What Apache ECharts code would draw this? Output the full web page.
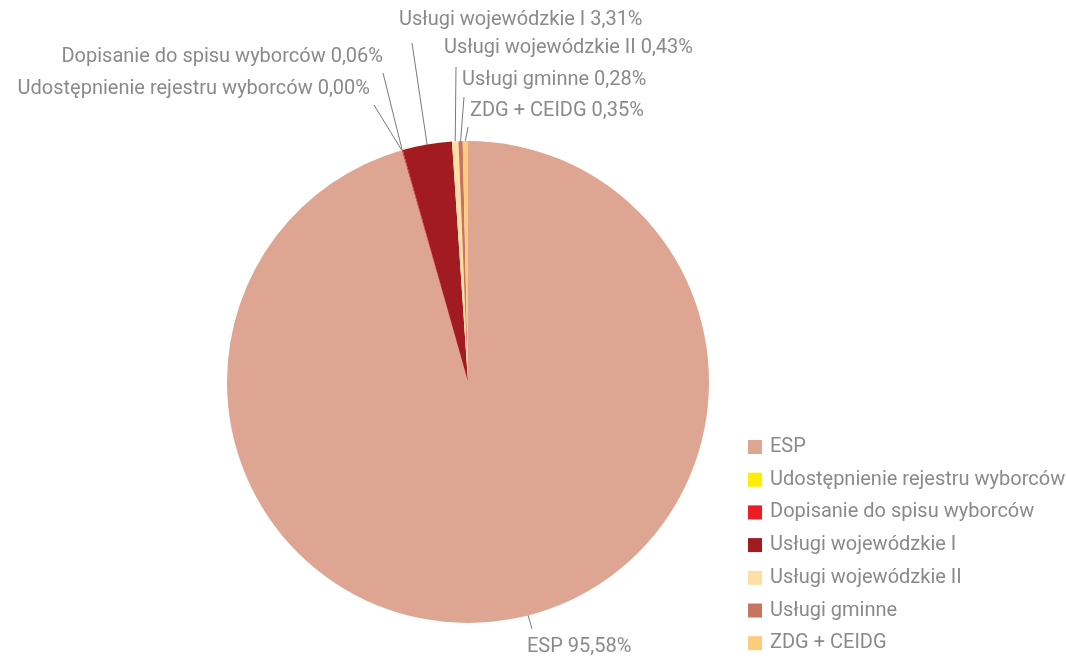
<!DOCTYPE html>
<html>
<head>
<meta charset="utf-8">
<script src="https://cdn.jsdelivr.net/npm/echarts@6/dist/echarts.min.js"></script>
<style>
  html, body { margin: 0; padding: 0; background: #fff; }
  #chart { width: 1066px; height: 656px; }
</style>
</head>
<body>
<div id="chart"></div>
<script>
// Share of each service, in percent
const categories = [
  'ESP',
  'Udostępnienie rejestru wyborców',
  'Dopisanie do spisu wyborców',
  'Usługi wojewódzkie I',
  'Usługi wojewódzkie II',
  'Usługi gminne',
  'ZDG + CEIDG'
];
const shares = [95.58, 0.00, 0.06, 3.31, 0.43, 0.28, 0.35];
const colors = ['#DEA692', '#FFEE00', '#EE1D25', '#A21B21', '#FDDFA3', '#C77461', '#FDCB7C'];

const FONT = 'Roboto';
const TEXT_GREY = '#8a8a8a';

// Where each callout label sits (text anchor) and where its leader line ends
const calloutLayout = [
  { x: 527, y: 647, align: 'left',  end: [532, 629], from: [528, 615] },
  { x: 370, y: 89,  align: 'right', end: [374, 105] },
  { x: 383, y: 57,  align: 'right', end: [383, 73] },
  { x: 399, y: 20,  align: 'left',  end: [412, 43] },
  { x: 444, y: 48,  align: 'left',  end: [456, 67] },
  { x: 462, y: 80,  align: 'left',  end: [464, 97] },
  { x: 470, y: 111, align: 'left',  end: [468, 127] }
];

const chart = echarts.init(document.getElementById('chart'), null, { renderer: 'canvas' });

chart.setOption({
  animation: false,
  color: colors,
  legend: {
    orient: 'vertical',
    left: 748,
    top: 437,
    padding: 0,
    icon: 'rect',
    itemWidth: 14,
    itemHeight: 14,
    itemGap: 12.7,
    textStyle: { fontFamily: FONT, fontSize: 20, color: TEXT_GREY, lineHeight: 20, padding: [0, 0, 0, 3] },
    data: categories
  },
  series: [{
    type: 'pie',
    center: [468, 382],
    radius: 241,
    startAngle: 90,
    clockwise: true,
    avoidLabelOverlap: false,
    itemStyle: { borderWidth: 0 },
    label: {
      fontFamily: FONT,
      fontSize: 20,
      color: TEXT_GREY,
      formatter: p => p.name + ' ' + p.value.toFixed(2).replace('.', ',') + '%'
    },
    labelLine: {
      show: true,
      length: 20,
      length2: 0,
      lineStyle: { color: '#7a7a7a', width: 1 }
    },
    labelLayout: params => {
      const c = calloutLayout[params.dataIndex];
      const start = c.from || params.labelLinePoints[0];
      return {
        x: c.x,
        y: c.y,
        align: c.align,
        verticalAlign: 'middle',
        labelLinePoints: [start, c.end, c.end]
      };
    },
    emphasis: { disabled: true },
    data: categories.map((name, i) => ({ name, value: shares[i] }))
  }]
});
</script>
</body>
</html>
